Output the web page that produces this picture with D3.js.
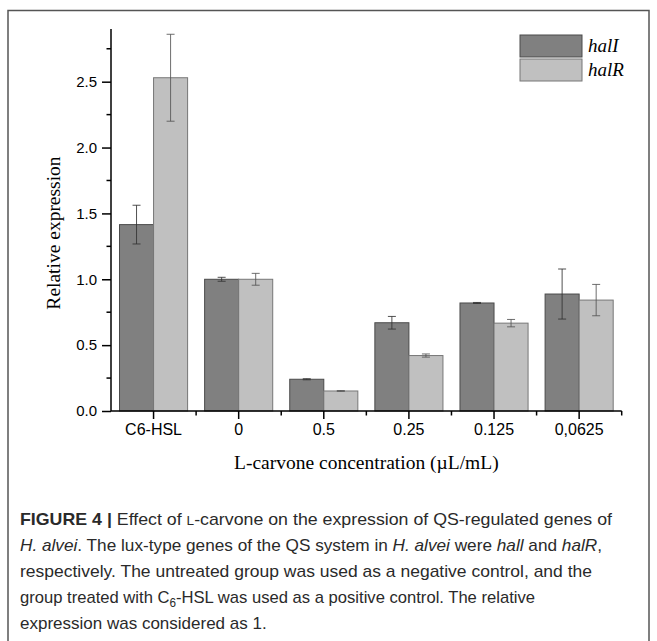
<!DOCTYPE html>
<html>
<head>
<meta charset="utf-8">
<script src="https://cdn.jsdelivr.net/npm/d3@7"></script>
<style>
  body { margin: 0; background: #fff; }
  svg { display: block; }
</style>
</head>
<body>
<svg id="chart" width="657" height="641"></svg>
<script>
// values
var categories = ['C6-HSL', '0', '0.5', '0.25', '0.125', '0,0625'];
var halI    = [1.415, 1.0, 0.241, 0.670, 0.820, 0.888];
var halIErr = [0.147, 0.015, 0.004, 0.048, 0.004, 0.190];
var halR    = [2.53, 1.0, 0.152, 0.421, 0.667, 0.842];
var halRErr = [0.330, 0.045, 0.003, 0.012, 0.028, 0.119];
var yTicks = [0, 0.5, 1.0, 1.5, 2.0, 2.5];
var yMinorTicks = [0.25, 0.75, 1.25, 1.75, 2.25, 2.75];

var series = [
    { key: 'halI', values: halI, errors: halIErr, fill: '#808080', stroke: '#4a4a4a', err: '#333' },
    { key: 'halR', values: halR, errors: halRErr, fill: '#c0c0c0', stroke: '#777', err: '#555' }
];

var svg = d3.select('#chart');

// frame around figure + caption
svg.append('rect')
    .attr('x', 8).attr('y', 10.5)
    .attr('width', 641).attr('height', 640)
    .attr('fill', 'none').attr('stroke', '#555').attr('stroke-width', 1.5);

var plot = { left: 111, right: 621.7, top: 29, bottom: 411 };

var x0 = d3.scaleBand()
    .domain(categories)
    .range([plot.left, plot.right])
    .paddingInner(0.2).paddingOuter(0.1);

var x1 = d3.scaleBand()
    .domain(series.map(function(s) { return s.key; }))
    .range([0, x0.bandwidth()]);

var y = d3.scaleLinear().domain([0, 2.9]).range([plot.bottom, plot.top]);

// bars
series.forEach(function(s) {
    var g = svg.append('g');
    g.selectAll('rect')
        .data(categories)
        .enter().append('rect')
        .attr('x', function(c) { return x0(c) + x1(s.key); })
        .attr('y', function(c, i) { return y(s.values[i]); })
        .attr('width', x1.bandwidth())
        .attr('height', function(c, i) { return y(0) - y(s.values[i]); })
        .attr('fill', s.fill)
        .attr('stroke', s.stroke)
        .attr('stroke-width', 1);
});

// error bars
series.forEach(function(s) {
    var g = svg.append('g').attr('stroke', s.err).attr('stroke-width', 1).attr('stroke-opacity', 0.85);
    categories.forEach(function(c, i) {
        var cx = x0(c) + x1(s.key) + x1.bandwidth() / 2;
        var lo = y(s.values[i] - s.errors[i]), hi = y(s.values[i] + s.errors[i]);
        g.append('line').attr('x1', cx).attr('x2', cx).attr('y1', lo).attr('y2', hi);
        g.append('line').attr('x1', cx - 4).attr('x2', cx + 4).attr('y1', lo).attr('y2', lo);
        g.append('line').attr('x1', cx - 4).attr('x2', cx + 4).attr('y1', hi).attr('y2', hi);
    });
});

// y axis
var yAxis = svg.append('g')
    .attr('transform', 'translate(' + plot.left + ',0)')
    .call(d3.axisLeft(y).tickValues(yTicks).tickFormat(d3.format('.1f')).tickSize(9).tickPadding(5));
yAxis.select('.domain').attr('d', 'M0,' + plot.bottom + 'V' + plot.top).attr('stroke-width', 1.5);
yAxis.selectAll('.tick line').attr('stroke-width', 1.5);
yAxis.selectAll('text').attr('font-family', 'Liberation Sans, Arial, sans-serif').attr('font-size', 15).attr('fill', '#000');
svg.append('g')
    .attr('transform', 'translate(' + plot.left + ',0)')
    .selectAll('line').data(yMinorTicks).enter().append('line')
    .attr('x1', -4.5).attr('x2', 0)
    .attr('y1', function(d) { return y(d); }).attr('y2', function(d) { return y(d); })
    .attr('stroke', '#000').attr('stroke-width', 1.5);

// x axis
var xAxis = svg.append('g')
    .attr('transform', 'translate(0,' + plot.bottom + ')')
    .call(d3.axisBottom(x0).tickSize(8).tickPadding(5));
xAxis.select('.domain').attr('d', 'M' + plot.left + ',0H' + plot.right).attr('stroke-width', 1.5);
xAxis.selectAll('.tick line').attr('stroke-width', 1.5);
xAxis.selectAll('text').attr('font-family', 'Liberation Sans, Arial, sans-serif').attr('font-size', 16).attr('fill', '#000');
var xMinor = categories.map(function(c) { return x0(c) - x0.step() * 0.1; }).slice(1).concat([plot.right]);
svg.append('g')
    .attr('transform', 'translate(0,' + plot.bottom + ')')
    .selectAll('line').data(xMinor).enter().append('line')
    .attr('x1', function(d) { return d; }).attr('x2', function(d) { return d; })
    .attr('y1', 0).attr('y2', 4.5)
    .attr('stroke', '#000').attr('stroke-width', 1.5);

// axis titles
svg.append('text')
    .attr('transform', 'translate(60,233) rotate(-90)')
    .attr('text-anchor', 'middle')
    .attr('font-family', 'Liberation Serif, Times New Roman, serif')
    .attr('font-size', 19.5)
    .text('Relative expression');

svg.append('text')
    .attr('x', (plot.left + plot.right) / 2).attr('y', 469)
    .attr('text-anchor', 'middle')
    .attr('font-family', 'Liberation Serif, Times New Roman, serif')
    .attr('font-size', 19.5)
    .text('L-carvone concentration (\u00b5L/mL)');

// legend
var legend = svg.append('g').attr('transform', 'translate(520,35)');
series.forEach(function(s, i) {
    legend.append('rect')
        .attr('x', 0).attr('y', i * 24)
        .attr('width', 62).attr('height', 22)
        .attr('fill', s.fill).attr('stroke', s.stroke).attr('stroke-width', 1);
    legend.append('text')
        .attr('x', 68).attr('y', i * 24 + 17)
        .attr('font-family', 'Liberation Serif, Times New Roman, serif')
        .attr('font-style', 'italic')
        .attr('font-size', 19)
        .text(s.key);
});

// caption
var captionLines = [
    [['FIGURE 4 |', 'b'], [' Effect of ', ''], ['L', 'sc'], ['-carvone on the expression of QS-regulated genes of', '']],
    [['H. alvei', 'i'], ['. The lux-type genes of the QS system in ', ''], ['H. alvei', 'i'], [' were ', ''], ['hall', 'i'], [' and ', ''], ['halR', 'i'], [',', '']],
    [['respectively. The untreated group was used as a negative control, and the', '']],
    [['group treated with C', ''], ['6', 'sub'], ['-HSL was used as a positive control. The relative', '']],
    [['expression was considered as 1.', '']]
];
var captionWidths = [592, 582, 572, 515, null];

var caption = svg.append('g')
    .attr('font-family', 'Liberation Sans, Arial, sans-serif')
    .attr('font-size', 17)
    .attr('fill', '#2a2a2a');
captionLines.forEach(function(line, li) {
    var t = caption.append('text').attr('x', 20).attr('y', 525 + li * 26);
    if (captionWidths[li]) t.attr('textLength', captionWidths[li]).attr('lengthAdjust', 'spacingAndGlyphs');
    line.forEach(function(part) {
        var ts = t.append('tspan').text(part[0]);
        if (part[1] === 'b') ts.attr('font-weight', 'bold');
        if (part[1] === 'i') ts.attr('font-style', 'italic');
        if (part[1] === 'sc') ts.attr('font-size', 13);
        if (part[1] === 'sub') ts.attr('font-size', 12).attr('baseline-shift', '-4');
    });
});
</script>
</body>
</html>
